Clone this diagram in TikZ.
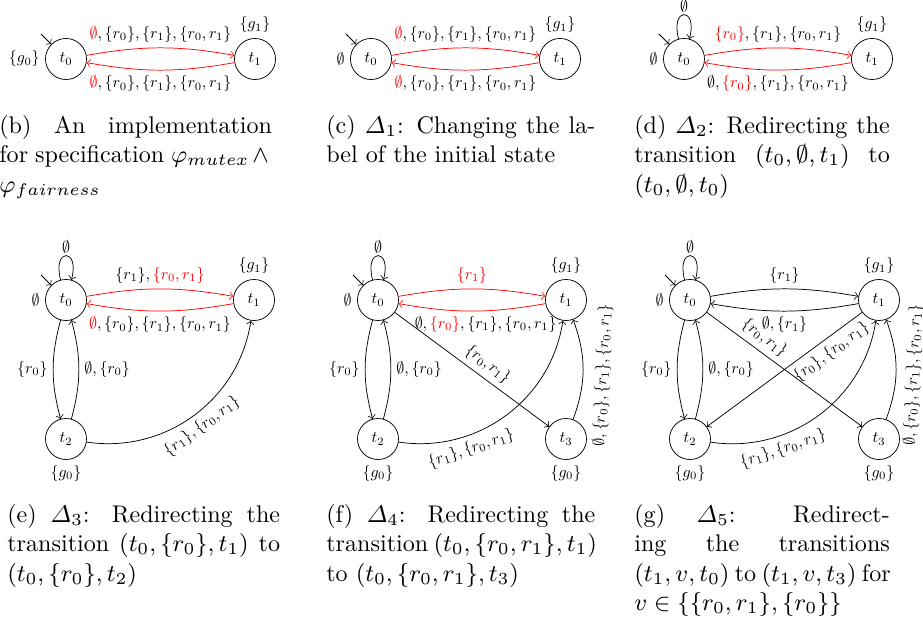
\RequirePackage{fix-cm}
\documentclass[tikz,border=0pt]{standalone}
\usepackage{amsmath,amssymb}
\usepackage{xcolor}
\usetikzlibrary{positioning,calc}
\newcommand{\chg}[1]{{\color{red}#1}}
\newcommand{\capline}[1]{\makebox[\linewidth][s]{#1}}

\begin{document}
\begin{tikzpicture}[x=0.407pt,y=-0.407pt,>=to,line width=0.3pt,
  st/.style={draw,circle,minimum size=25.7pt,inner sep=0pt},
  hot/.style={red},
  lab/.style={text=black},
  lp/.style={above=0pt,inner sep=1.5pt},
  every loop/.append style={min distance=4mm},
  capt/.style={anchor=north west,inner sep=0pt,align=justify,text width=#1,font=\fontsize{9.8}{12}\selectfont}]
\useasboundingbox (0,0) rectangle (923,621);

\begin{scope}[every node/.style={scale=0.65}]
% (b) implementation
\node[st,label=left:{$\{g_0\}$}] (b0) at (66,59) {$t_0$};
\node[st,label=above:{$\{g_1\}$}] (b1) at (255,59) {$t_1$};
\coordinate (bi) at ([shift={(135:6pt)}]b0.135);
\draw[->] (bi) -- (b0.135);
\draw[->,hot] (b0) to[bend left=10] node[above,lab] {$\chg{\emptyset},\{r_0\},\{r_1\},\{r_0,r_1\}$} (b1);
\draw[->,hot] (b1) to[bend left=10] node[below,lab] {$\chg{\emptyset},\{r_0\},\{r_1\},\{r_0,r_1\}$} (b0);

% (c) Delta_1
\node[st,label=left:{$\emptyset$}] (c0) at (371,59) {$t_0$};
\node[st,label=above:{$\{g_1\}$}] (c1) at (560,59) {$t_1$};
\coordinate (ci) at ([shift={(135:6pt)}]c0.135);
\draw[->] (ci) -- (c0.135);
\draw[->,hot] (c0) to[bend left=10] node[above,lab] {$\chg{\emptyset},\{r_0\},\{r_1\},\{r_0,r_1\}$} (c1);
\draw[->,hot] (c1) to[bend left=10] node[below,lab] {$\chg{\emptyset},\{r_0\},\{r_1\},\{r_0,r_1\}$} (c0);

% (d) Delta_2
\node[st,label=left:{$\emptyset$}] (d0) at (684,59) {$t_0$};
\node[st,label=above:{$\{g_1\}$}] (d1) at (872,59) {$t_1$};
\coordinate (di) at ([shift={(135:6pt)}]d0.135);
\draw[->] (di) -- (d0.135);
\draw[->] (d0) to[loop above] node[lp] {$\emptyset$} (d0);
\draw[->,hot] (d0) to[bend left=10] node[above,lab] {$\chg{\{r_0\}},\{r_1\},\{r_0,r_1\}$} (d1);
\draw[->,hot] (d1) to[bend left=10] node[below,lab] {$\emptyset,\chg{\{r_0\}},\{r_1\},\{r_0,r_1\}$} (d0);

% (e) Delta_3
\node[st,label=left:{$\emptyset$}] (e0) at (66,300) {$t_0$};
\node[st,label=above:{$\{g_1\}$}] (e1) at (254,300) {$t_1$};
\node[st,label=below:{$\{g_0\}$}] (e2) at (66,439) {$t_2$};
\coordinate (ei) at ([shift={(135:6pt)}]e0.135);
\draw[->] (ei) -- (e0.135);
\draw[->] (e0) to[loop above] node[lp] {$\emptyset$} (e0);
\draw[->,hot] (e0) to[bend left=10] node[above,lab] {$\{r_1\},\chg{\{r_0,r_1\}}$} (e1);
\draw[->,hot] (e1) to[bend left=10] node[below,lab] {$\chg{\emptyset},\{r_0\},\{r_1\},\{r_0,r_1\}$} (e0);
\draw[->] (e0) to[bend right=15] node[left] {$\{r_0\}$} (e2);
\draw[->] (e2) to[bend right=15] node[right] {$\emptyset,\{r_0\}$} (e0);
\draw[->] (e2) to[bend right=45] node[sloped,below,pos=0.5] {$\{r_1\},\{r_0,r_1\}$} (e1);

% (f) Delta_4
\node[st,label=left:{$\emptyset$}] (f0) at (378,300) {$t_0$};
\node[st,label=above:{$\{g_1\}$}] (f1) at (566,300) {$t_1$};
\node[st,label=below:{$\{g_0\}$}] (f2) at (378,439) {$t_2$};
\node[st,label=below:{$\{g_0\}$}] (f3) at (566,439) {$t_3$};
\coordinate (fi) at ([shift={(135:6pt)}]f0.135);
\draw[->] (fi) -- (f0.135);
\draw[->] (f0) to[loop above] node[lp] {$\emptyset$} (f0);
\draw[->,hot] (f0) to[bend left=10] node[above] {$\{r_1\}$} (f1);
\draw[->,hot] (f1) to[bend left=10] node[below,lab,pos=0.4] {$\emptyset,\chg{\{r_0\}},\{r_1\},\{r_0,r_1\}$} (f0);
\draw[->] (f0) to[bend right=15] node[left] {$\{r_0\}$} (f2);
\draw[->] (f2) to[bend right=15] node[right] {$\emptyset,\{r_0\}$} (f0);
\draw[->] (f2) to[bend right=45] node[sloped,below,pos=0.3] {$\{r_1\},\{r_0,r_1\}$} (f1);
\draw[->] (f0) -- node[sloped,above,pos=0.55] {$\{r_0,r_1\}$} (f3);
\draw[->] (f3) to[bend right=20] node[sloped,below=2.5pt,pos=0.45] {$\emptyset,\{r_0\},\{r_1\},\{r_0,r_1\}$} (f1);

% (g) Delta_5
\node[st,label=left:{$\emptyset$}] (g0) at (690,300) {$t_0$};
\node[st,label=above:{$\{g_1\}$}] (g1) at (879,300) {$t_1$};
\node[st,label=below:{$\{g_0\}$}] (g2) at (690,439) {$t_2$};
\node[st,label=below:{$\{g_0\}$}] (g3) at (879,439) {$t_3$};
\coordinate (gi) at ([shift={(135:6pt)}]g0.135);
\draw[->] (gi) -- (g0.135);
\draw[->] (g0) to[loop above] node[lp] {$\emptyset$} (g0);
\draw[->] (g0) to[bend left=10] node[above] {$\{r_1\}$} (g1);
\draw[->] (g1) to[bend left=10] node[below] {$\emptyset,\{r_1\}$} (g0);
\draw[->] (g0) to[bend right=15] node[left] {$\{r_0\}$} (g2);
\draw[->] (g2) to[bend right=15] node[right] {$\emptyset,\{r_0\}$} (g0);
\draw[->] (g2) to[bend right=45] node[sloped,below,pos=0.3] {$\{r_1\},\{r_0,r_1\}$} (g1);
\draw[->] (g0) -- node[sloped,above,pos=0.32] {$\{r_0,r_1\}$} (g3);
\draw[->] (g1) -- node[sloped,below,pos=0.25] {$\{r_0\},\{r_0,r_1\}$} (g2);
\draw[->] (g3) to[bend right=20] node[sloped,below=1.5pt,pos=0.45] {$\emptyset,\{r_0\},\{r_1\},\{r_0,r_1\}$} (g1);
\end{scope}

% captions
\node[capt=111pt] (cb) at (-1,115) {\capline{(b) An implementation}\\ \capline{for specification $\varphi_{mutex}\wedge{}$}\\ $\varphi_{fairness}$};
\node[capt=109.5pt] (cc) at (326,115) {\capline{(c) $\varDelta_1$: Changing the la-}\\ bel of the initial state};
\node[capt=104pt] (cd) at (634,115) {\capline{(d) $\varDelta_2$: Redirecting the}\\ \capline{transition $(t_0,\emptyset,t_1)$ to}\\ $(t_0,\emptyset,t_0)$};
\node[capt=111pt] (ce) at (7,504) {\capline{(e) $\varDelta_3$: Redirecting the}\\ \capline{transition $(t_0,\{r_0\},t_1)$ to}\\ $(t_0,\{r_0\},t_2)$};
\node[capt=109.5pt] (cf) at (326,504) {\capline{(f) $\varDelta_4$: Redirecting the}\\ \capline{transition $(t_0,\{r_0,r_1\},t_1)$}\\ to $(t_0,\{r_0,r_1\},t_3)$};
\node[capt=104pt] (cg) at (634,504) {\capline{(g) $\varDelta_5$: Redirect-}\\ \capline{ing the transitions}\\ \capline{$(t_1,v,t_0)$ to $(t_1,v,t_3)$ for}\\ $v\in\{\{r_0,r_1\},\{r_0\}\}$};
\end{tikzpicture}
\end{document}
